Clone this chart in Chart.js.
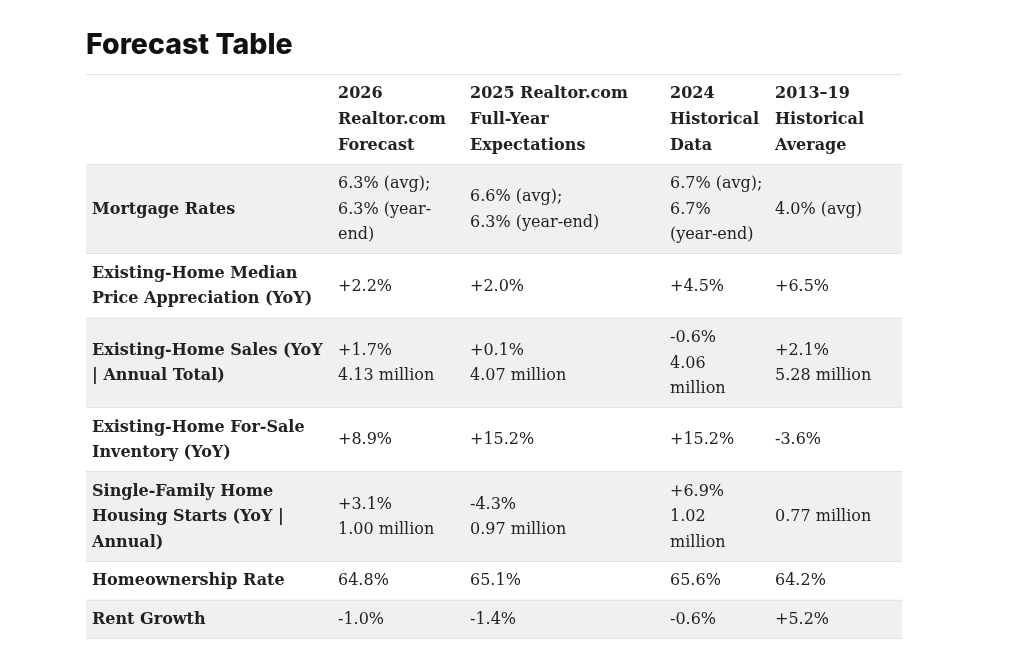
<!DOCTYPE html>
<html><head><meta charset="utf-8">
<script src="https://cdn.jsdelivr.net/npm/chart.js@4.4.1/dist/chart.umd.min.js"></script>
<style>html,body{margin:0;padding:0;background:#fff;}</style>
</head><body>
<canvas id="c" width="1024" height="670"></canvas>
<script>
// ---- data ----
const tableTitle = "Forecast Table";
const headers = ["", "2026\nRealtor.com\nForecast", "2025 Realtor.com\nFull-Year\nExpectations", "2024\nHistorical\nData", "2013\u201319\nHistorical\nAverage"];
const rowLabels = ["Mortgage Rates", "Existing-Home Median\nPrice Appreciation (YoY)", "Existing-Home Sales (YoY\n| Annual Total)", "Existing-Home For-Sale\nInventory (YoY)", "Single-Family Home\nHousing Starts (YoY |\nAnnual)", "Homeownership Rate", "Rent Growth"];
const forecast2026 = ["6.3% (avg);\n6.3% (year-\nend)", "+2.2%", "+1.7%\n4.13 million", "+8.9%", "+3.1%\n1.00 million", "64.8%", "-1.0%"];
const expectations2025 = ["6.6% (avg);\n6.3% (year-end)", "+2.0%", "+0.1%\n4.07 million", "+15.2%", "-4.3%\n0.97 million", "65.1%", "-1.4%"];
const historical2024 = ["6.7% (avg);\n6.7%\n(year-end)", "+4.5%", "-0.6%\n4.06\nmillion", "+15.2%", "+6.9%\n1.02\nmillion", "65.6%", "-0.6%"];
const average2013to19 = ["4.0% (avg)", "+6.5%", "+2.1%\n5.28 million", "-3.6%", "0.77 million", "64.2%", "+5.2%"];

// ---- layout (not data) ----
const columnsText = [rowLabels, forecast2026, expectations2025, historical2024, average2013to19];
const colWidths = [246, 132, 200, 105, 133];
const colStarts = colWidths.map((w, i) => colWidths.slice(0, i).reduce((a, b) => a + b, 0));
const tableWidth = colWidths.reduce((a, b) => a + b, 0);
const nRows = rowLabels.length + 1;
const cellText = (c, r) => r === 0 ? headers[c] : columnsText[c][r - 1];
const rowUnits = [];
for (let r = 0; r < nRows; r++) {
  let m = 1;
  for (let c = 0; c < columnsText.length; c++) m = Math.max(m, cellText(c, r).split("\n").length);
  rowUnits.push(m + 0.5);
}
const rowTops = rowUnits.map((u, i) => rowUnits.slice(0, i).reduce((a, b) => a + b, 0));
const totalUnits = rowUnits.reduce((a, b) => a + b, 0);
const rowCenters = rowTops.map((t, i) => t + rowUnits[i] / 2);

const FONT = "'DejaVu Serif', serif";
const FSIZE = 16;

const datasets = columnsText.map((col, c) => ({
  label: headers[c] || "label",
  texts: Array.from({length: nRows}, (_, r) => cellText(c, r)),
  data: Array.from({length: nRows}, (_, r) => ({x: colStarts[c], y: rowCenters[r]})),
  pointRadius: 0,
  pointHoverRadius: 0,
  showLine: false
}));

const tablePlugin = {
  id: 'tablePlugin',
  beforeDatasetsDraw(chart) {
    const {ctx, scales: {x, y}} = chart;
    const x0 = x.getPixelForValue(0), x1 = x.getPixelForValue(tableWidth);
    ctx.save();
    for (let r = 0; r < nRows; r++) {
      const top = y.getPixelForValue(rowTops[r]);
      const bot = y.getPixelForValue(rowTops[r] + rowUnits[r]);
      if (r % 2 === 1) {
        ctx.fillStyle = '#f1f0f0';
        ctx.fillRect(x0, top, x1 - x0, bot - top);
      }
    }
    ctx.strokeStyle = '#e3e3e3';
    ctx.lineWidth = 1.2;
    for (let r = 0; r <= nRows; r++) {
      const v = r === nRows ? totalUnits : rowTops[r];
      const py = Math.round(y.getPixelForValue(v)) + 0.5;
      ctx.beginPath(); ctx.moveTo(x0, py); ctx.lineTo(x1, py); ctx.stroke();
    }
    ctx.restore();
  },
  afterDatasetsDraw(chart) {
    const {ctx, scales: {y}} = chart;
    const lineH = y.getPixelForValue(1) - y.getPixelForValue(0);
    ctx.save();
    ctx.fillStyle = '#222222';
    ctx.textAlign = 'left';
    ctx.textBaseline = 'middle';
    chart.data.datasets.forEach((ds, d) => {
      const meta = chart.getDatasetMeta(d);
      meta.data.forEach((el, r) => {
        const bold = (d === 0 || r === 0);
        ctx.font = (bold ? 'bold ' : '') + FSIZE + 'px ' + FONT;
        const lines = ds.texts[r].split("\n");
        const n = lines.length;
        lines.forEach((ln, k) => {
          ctx.fillText(ln, el.x + 6, el.y + (k - (n - 1) / 2) * lineH + 1);
        });
      });
    });
    ctx.restore();
  }
};

new Chart(document.getElementById('c'), {
  type: 'scatter',
  data: {datasets},
  options: {
    responsive: false,
    animation: false,
    events: [],
    layout: {padding: {top: 28, left: 86, right: 122, bottom: 32}},
    scales: {
      x: {type: 'linear', display: false, min: 0, max: tableWidth},
      y: {type: 'linear', display: false, reverse: true, min: 0, max: totalUnits}
    },
    plugins: {
      legend: {display: false},
      tooltip: {enabled: false},
      title: {
        display: true,
        text: tableTitle,
        align: 'start',
        color: '#111111',
        font: {family: "Inter, 'DejaVu Sans', sans-serif", size: 28.5, weight: '800'},
        padding: {top: 0, bottom: 11.8}
      }
    }
  },
  plugins: [tablePlugin]
});
</script>
</body></html>
